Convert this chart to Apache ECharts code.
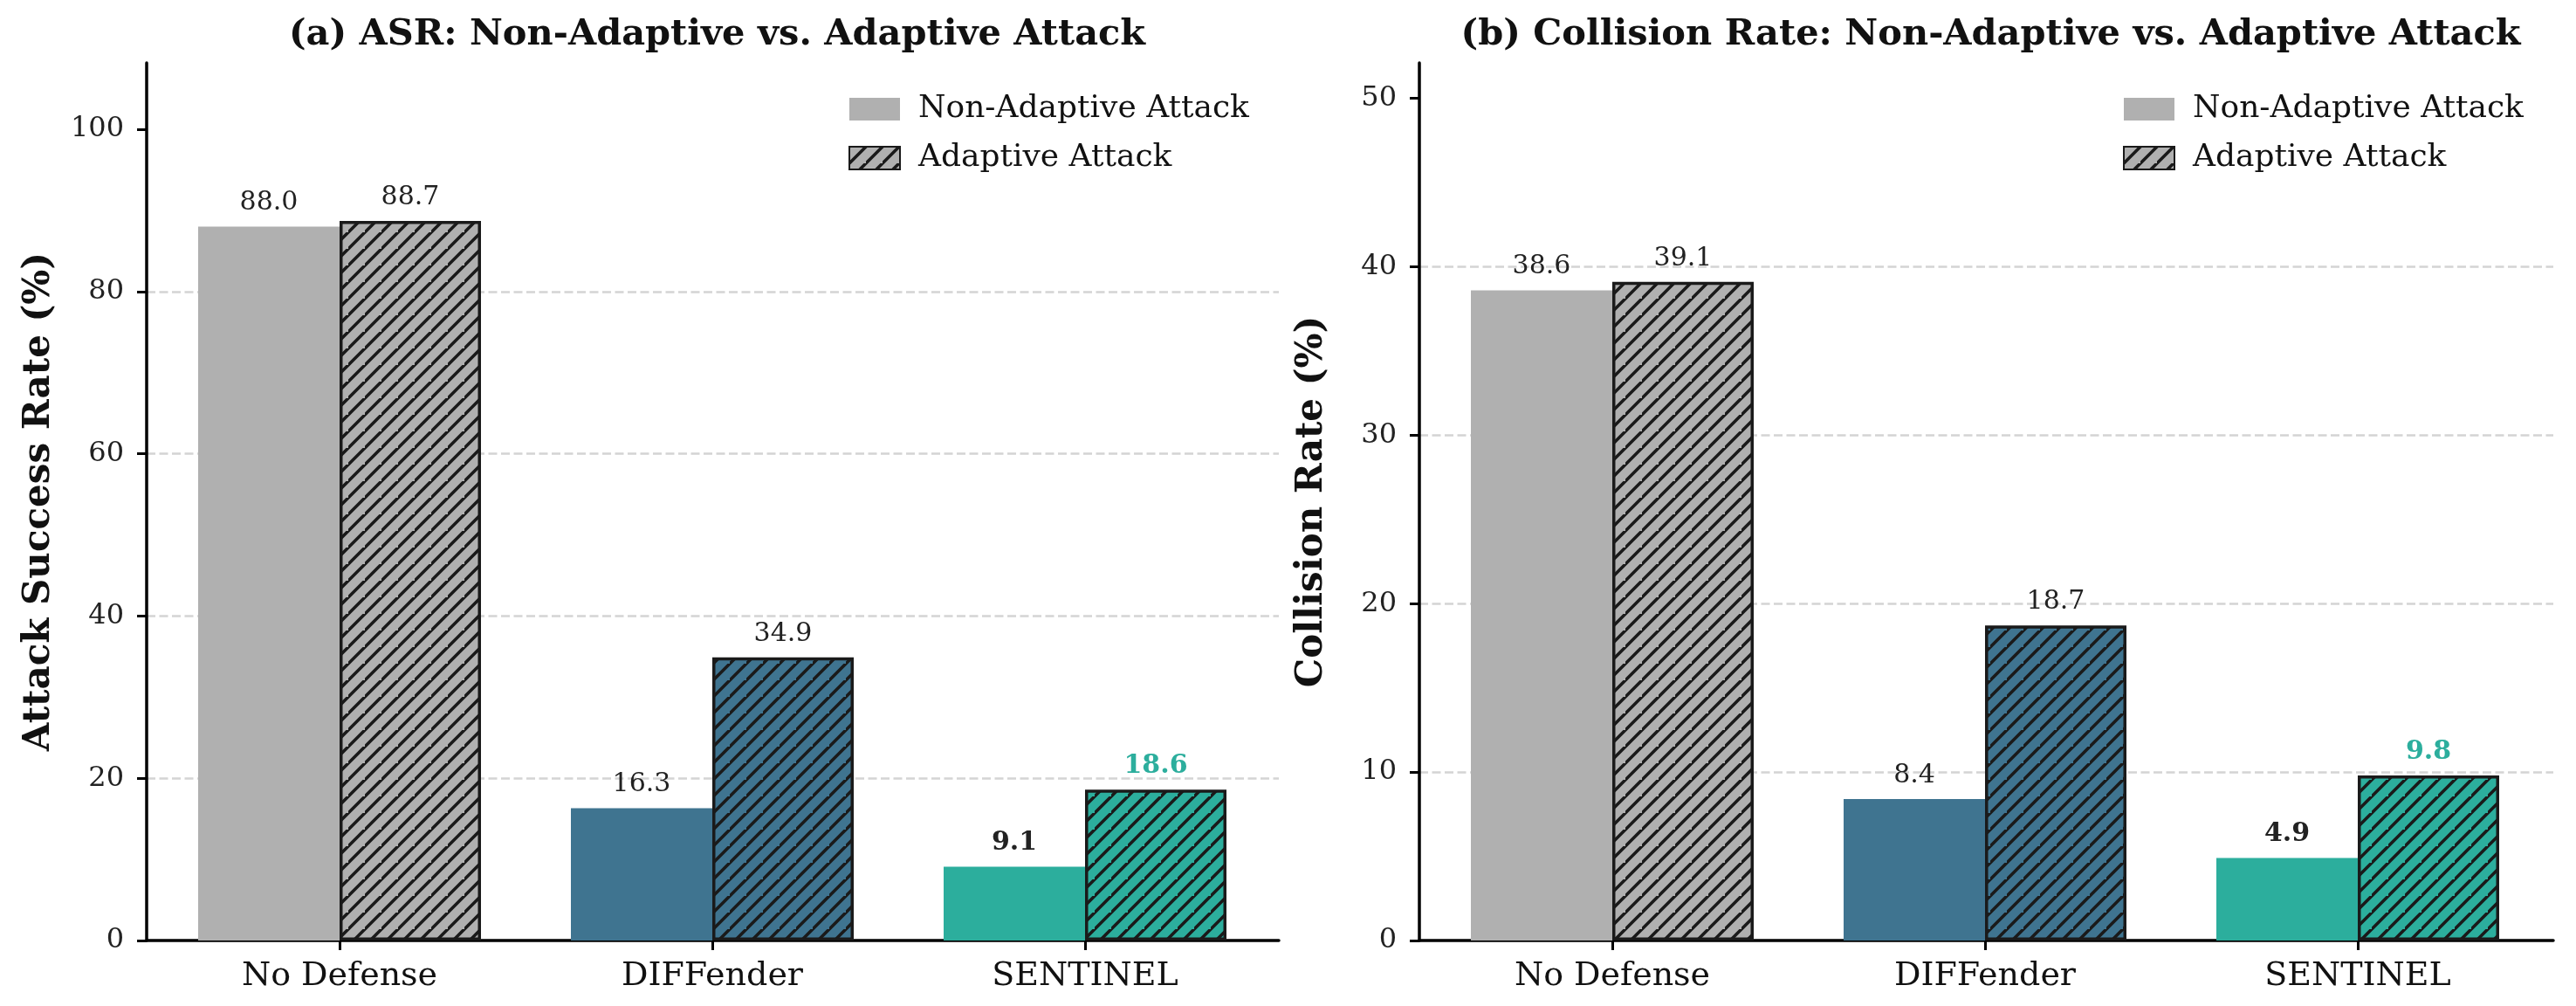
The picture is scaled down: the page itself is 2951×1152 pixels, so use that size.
<!DOCTYPE html>
<html>
<head>
<meta charset="utf-8">
<script src="https://cdn.jsdelivr.net/npm/echarts@6/dist/echarts.min.js"></script>
<style>
html,body{margin:0;padding:0;background:#fff;}
#chart{width:2951px;height:1152px;}
</style>
</head>
<body>
<div id="chart"></div>
<script>
const categories = ['No Defense', 'DIFFender', 'SENTINEL'];
const asrNonAdaptive = [88.0, 16.3, 9.1];
const asrAdaptive = [88.7, 34.9, 18.6];
const crNonAdaptive = [38.6, 8.4, 4.9];
const crAdaptive = [39.1, 18.7, 9.8];
const asrTicks = [0, 20, 40, 60, 80, 100];
const crTicks = [0, 10, 20, 30, 40, 50];
const seriesNames = ['Non-Adaptive Attack', 'Adaptive Attack'];
const panelTitles = ['(a) ASR: Non-Adaptive vs. Adaptive Attack', '(b) Collision Rate: Non-Adaptive vs. Adaptive Attack'];
const yNames = ['Attack Success Rate (%)', 'Collision Rate (%)'];

const barColors = ['#b0b0b0', '#3f7490', '#2cae9d'];
const highlightIdx = 2;
const FONT = 'DejaVu Serif';

function hatch(bg) {
  const T = 19;
  const c = document.createElement('canvas');
  c.width = T; c.height = T;
  const g = c.getContext('2d');
  g.fillStyle = bg; g.fillRect(0, 0, T, T);
  g.strokeStyle = '#1a1a1a'; g.lineWidth = 3.6; g.lineCap = 'square';
  g.beginPath();
  g.moveTo(-2, T + 2); g.lineTo(T + 2, -2);
  g.moveTo(-T - 2, T + 2); g.lineTo(2, -2);
  g.moveTo(T - 2, 2 * T + 2); g.lineTo(2 * T + 2, T - 2);
  g.stroke();
  return { image: c, repeat: 'repeat' };
}

const panels = [
  { spineLeft: 168, spineWidth: 1297, max: 108.2, ticks: asrTicks, non: asrNonAdaptive, ada: asrAdaptive },
  { spineLeft: 1626, spineWidth: 1299, max: 52.1, ticks: crTicks, non: crNonAdaptive, ada: crAdaptive }
];
const TOP = 72, BOTTOM_Y = 1077, H = BOTTOM_Y - TOP;
const bandWidth = 427;
const barWidth = 162;

const grid = [], xAxis = [], yAxis = [], series = [], title = [], legend = [];
panels.forEach((p, i) => {
  const catCenter0 = p.spineLeft + 221;
  const barLeft = catCenter0 - bandWidth / 2;
  grid.push({ left: p.spineLeft, top: TOP, width: p.spineWidth, height: H });
  grid.push({ left: barLeft, top: TOP, width: bandWidth * 3, height: H });
  const gSpine = 2 * i, gBar = 2 * i + 1;
  xAxis.push({
    gridIndex: gSpine, type: 'value', min: 0, max: 1,
    axisLine: { show: true, onZero: false, lineStyle: { color: '#000', width: 3.5 } },
    axisTick: { show: false }, axisLabel: { show: false }, splitLine: { show: false }
  });
  xAxis.push({
    gridIndex: gBar, type: 'category', data: categories,
    axisLine: { show: false },
    axisTick: { show: true, alignWithLabel: true, length: 11, lineStyle: { color: '#000', width: 3 } },
    axisLabel: { fontFamily: FONT, fontSize: 38, color: '#111', margin: 22 }
  });
  yAxis.push({
    gridIndex: gSpine, type: 'value', min: 0, max: p.max,
    name: yNames[i], nameLocation: 'middle', nameGap: 102,
    nameTextStyle: { fontFamily: FONT, fontSize: 42, fontWeight: 'bold', color: '#111' },
    axisLine: { show: true, lineStyle: { color: '#000', width: 3.5 } },
    axisTick: { show: true, length: 11, customValues: p.ticks, lineStyle: { color: '#000', width: 3 } },
    axisLabel: { customValues: p.ticks, fontFamily: FONT, fontSize: 32, color: '#222', margin: 26 },
    splitLine: { show: true, showMaxLine: false, showMinLine: false, lineStyle: { color: '#d4d4d4', width: 2.6, type: [10, 4.5] } }
  });
  yAxis.push({ gridIndex: gBar, type: 'value', min: 0, max: p.max, show: false, splitLine: { show: false } });

  const labelBase = { show: true, position: 'top', distance: 12, fontFamily: FONT, fontSize: 30, color: '#222' };
  series.push({
    name: seriesNames[0], type: 'bar', xAxisIndex: gBar, yAxisIndex: gBar,
    barWidth: barWidth, barGap: '0%',
    itemStyle: { color: barColors[0] },
    label: Object.assign({}, labelBase, { formatter: (d) => d.value.toFixed(1) }),
    data: p.non.map((v, k) => ({
      value: v, itemStyle: { color: barColors[k] },
      label: k === highlightIdx ? { fontWeight: 'bold', color: '#222' } : {}
    }))
  });
  series.push({
    name: seriesNames[1], type: 'bar', xAxisIndex: gBar, yAxisIndex: gBar,
    barWidth: barWidth, barGap: '0%',
    itemStyle: { color: hatch(barColors[0]), borderColor: '#1a1a1a', borderWidth: 3.5 },
    label: Object.assign({}, labelBase, { formatter: (d) => d.value.toFixed(1) }),
    data: p.ada.map((v, k) => ({
      value: v, itemStyle: { color: hatch(barColors[k]), borderColor: '#1a1a1a', borderWidth: 3.5 },
      label: k === highlightIdx ? { fontWeight: 'bold', color: barColors[highlightIdx] } : {}
    }))
  });
  title.push({
    text: panelTitles[i], left: p.spineLeft + p.spineWidth / 2, top: 14, textAlign: 'center',
    textStyle: { fontFamily: FONT, fontSize: 41.5, fontWeight: 'bold', color: '#111' }
  });
  legend.push({
    data: seriesNames, orient: 'vertical', left: p.spineLeft + p.spineWidth - 493, top: 107,
    itemWidth: 58, itemHeight: 26, itemGap: 20, icon: 'rect', padding: 0,
    selectedMode: false,
    textStyle: { fontFamily: FONT, fontSize: 36, lineHeight: 26, color: '#111', padding: [0, 0, 0, 16] }
  });
});

const chart = echarts.init(document.getElementById('chart'), null, { renderer: 'canvas' });
chart.setOption({
  backgroundColor: '#fff',
  animation: false,
  title, legend, grid, xAxis, yAxis, series
});
</script>
</body>
</html>
